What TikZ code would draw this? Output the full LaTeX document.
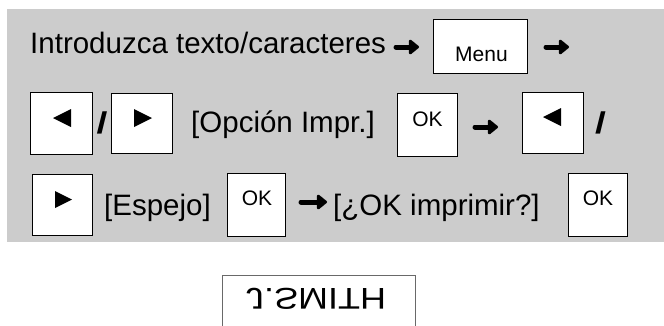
\documentclass[tikz,border=0pt]{standalone}
\usepackage{fontspec}
\setmainfont{Liberation Sans}
\usetikzlibrary{arrows.meta}
\definecolor{bggray}{RGB}{204,204,204}
\definecolor{labelgray}{RGB}{105,105,105}
\begin{document}
\begin{tikzpicture}[x=1pt,y=-1pt,
  keybox/.style={draw=black, fill=white, line width=1.3pt, inner sep=0pt},
  bigtext/.style={inner sep=0pt, anchor=base west, font=\fontsize{29.5}{35}\selectfont},
  oktext/.style={inner sep=0pt, font=\fontsize{21}{24}\selectfont},
  slashtext/.style={inner sep=0pt, xscale=1.3, font=\fontsize{30}{32}\selectfont\bfseries},
  heavyarrow/.style={line width=5pt, line cap=round, -{Triangle[length=11pt,width=17pt,round]}},
  tri/.style={fill=black}
]
\useasboundingbox (0,0) rectangle (664,325);
% background panel
\fill[bggray] (7,9) rectangle (664,242);

% ---- row 1
\node[bigtext] (t1) at (30,53) {Introduzca texto/caracteres};
\node[keybox, minimum width=94pt, minimum height=54pt] (menu) at (480.5,46.5) {};
\node[inner sep=0pt, font=\fontsize{21}{24}\selectfont] (menutxt) at (481.5,54.5) {Menu};
\coordinate (a1s) at (396,47); \coordinate (a1e) at (419,47);
\coordinate (a2s) at (546,47); \coordinate (a2e) at (569,47);
\draw[heavyarrow] (a1s) -- (a1e);
\draw[heavyarrow] (a2s) -- (a2e);

% ---- row 2
\node[keybox, minimum width=62pt, minimum height=62pt] (l1) at (61.5,123.5) {};
\fill[tri] (53,118) -- (71,109) -- (71,127) -- cycle;
\node[slashtext] (s1) at (102,122.5) {/};
\node[keybox, minimum width=61pt, minimum height=60pt] (r1) at (142,123.5) {};
\fill[tri] (134,109) -- (152,118) -- (134,127) -- cycle;
\node[bigtext] (t2) at (191,132) {[Opción Impr.]};
\node[keybox, minimum width=60pt, minimum height=63pt] (ok1) at (427.5,125) {};
\node[oktext] (ok1txt) at (427.5,119.5) {OK};
\coordinate (a3s) at (475,127); \coordinate (a3e) at (498,127);
\draw[heavyarrow] (a3s) -- (a3e);
\node[keybox, minimum width=61pt, minimum height=61pt] (l2) at (553,123) {};
\fill[tri] (543,117) -- (561,108) -- (561,126) -- cycle;
\node[slashtext] (s2) at (600.5,122.5) {/};

% ---- row 3
\node[keybox, minimum width=60pt, minimum height=61pt] (r2) at (62.5,205) {};
\fill[tri] (55,191) -- (72,199.5) -- (55,208) -- cycle;
\node[bigtext] (t3) at (104,215) {[Espejo]};
\node[keybox, minimum width=58pt, minimum height=63pt] (ok2) at (256.5,205) {};
\node[oktext] (ok2txt) at (257,198.5) {OK};
\coordinate (a4s) at (301,202); \coordinate (a4e) at (327,202);
\draw[heavyarrow] (a4s) -- (a4e);
\node[bigtext] (t4) at (333,215) {[¿OK imprimir?]};
\node[keybox, minimum width=59pt, minimum height=63pt] (ok3) at (598,205) {};
\node[oktext] (ok3txt) at (598,198.5) {OK};

% ---- mirrored label
\draw[labelgray, line width=1pt] (222,326) -- (222,275) -- (415,275) -- (415,326);
\node[inner sep=0pt, xscale=1.2, yscale=-1, font=\fontsize{30}{34}\selectfont] (label) at (316,299) {J.SMITH};
\end{tikzpicture}
\end{document}
